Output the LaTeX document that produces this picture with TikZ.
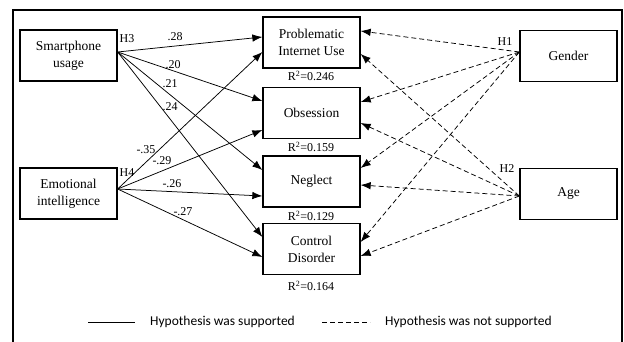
\documentclass[tikz,border=0pt]{standalone}
\usepackage{fontspec}
\setmainfont{Liberation Serif}
\newfontfamily\legendfont{Carlito}
\usetikzlibrary{arrows.meta}
\tikzset{
  varbox/.style={draw,line width=1.3pt,minimum width=97pt,minimum height=51pt,
    align=center,inner sep=1pt,font=\fontsize{13.5}{17}\selectfont},
  coef/.style={inner sep=0pt,font=\fontsize{12}{14}\selectfont},
  supp/.style={line width=0.75pt,-{Latex[length=10pt,width=7.5pt]}},
  nosupp/.style={line width=0.75pt,dash pattern=on 5pt off 3pt,-{Latex[length=10pt,width=7.5pt]}}
}
\begin{document}
\begin{tikzpicture}[x=1pt,y=-1pt]
\useasboundingbox (0,0) rectangle (624,342);
\draw[line width=1.3pt](13,342)|-(622,10)--(622,342);
%
\node[varbox](sp) at (68.5,55.5) {Smartphone\\usage};
\node[varbox](ei) at (68.5,193.5) {Emotional\\intelligence};
\node[varbox](piu) at (311.5,42.5) {Problematic\\Internet Use};
\node[varbox](obs) at (311.5,113) {Obsession};
\node[varbox](neg) at (311.5,181.5) {Neglect};
\node[varbox](ctl) at (311.5,249) {Control\\Disorder};
\node[varbox](gen) at (568.5,56) {Gender};
\node[varbox](age) at (568.5,194) {Age};
%
\node[coef](r1) at (311,76) {R\textsuperscript{2}=0.246};
\node[coef](r2) at (311,147) {R\textsuperscript{2}=0.159};
\node[coef](r3) at (311,216) {R\textsuperscript{2}=0.129};
\node[coef](r4) at (311,286) {R\textsuperscript{2}=0.164};
%
\draw[supp]([yshift=3.5pt]sp.east)--([yshift=5.5pt]piu.west);
\draw[supp]([yshift=3.5pt]sp.east)--([yshift=12pt]obs.west);
\draw[supp]([yshift=3.5pt]sp.east)--([yshift=11.5pt]neg.west);
\draw[supp]([yshift=3.5pt]sp.east)--([yshift=12pt]ctl.west);
\draw[supp]([yshift=4.5pt]ei.east)--([yshift=-9.5pt]piu.west);
\draw[supp]([yshift=4.5pt]ei.east)--([yshift=-17pt]obs.west);
\draw[supp]([yshift=4.5pt]ei.east)--([yshift=-14.5pt]neg.west);
\draw[supp]([yshift=4.5pt]ei.east)--([yshift=-8pt]ctl.west);
%
\draw[nosupp]([yshift=4pt]gen.west)--([yshift=11.5pt]piu.east);
\draw[nosupp]([yshift=4pt]gen.west)--([yshift=11pt]obs.east);
\draw[nosupp]([yshift=4pt]gen.west)--([yshift=13.5pt]neg.east);
\draw[nosupp]([yshift=4pt]gen.west)--([yshift=7pt]ctl.east);
\draw[nosupp]([yshift=-2pt]age.west)--([yshift=-11.5pt]piu.east);
\draw[nosupp]([yshift=-2pt]age.west)--([yshift=-10pt]obs.east);
\draw[nosupp]([yshift=-2pt]age.west)--([yshift=-3.5pt]neg.east);
\draw[nosupp]([yshift=-2pt]age.west)--([yshift=-7pt]ctl.east);
%
\node[coef](h3) at (127,39) {H3};
\node[coef](h4) at (127,173) {H4};
\node[coef](h1) at (505,42) {H1};
\node[coef](h2) at (507,169) {H2};
\node[coef](c28) at (175,37) {.28};
\node[coef](c20) at (173,65) {.20};
\node[coef](c21) at (170,84) {.21};
\node[coef](c24) at (170,107) {.24};
\node[coef](c35) at (146,150) {-.35};
\node[coef](c29) at (162,161) {-.29};
\node[coef](c26) at (172,184) {-.26};
\node[coef](c27) at (183,212) {-.27};
%
\coordinate(la) at (88,322);
\coordinate(lb) at (135,322);
\coordinate(lc) at (322,322);
\coordinate(ld) at (370,322);
\draw[line width=0.75pt](la)--(lb);
\draw[line width=0.75pt,dash pattern=on 5pt off 3pt](lc)--(ld);
\node[anchor=west,inner sep=0pt,font=\legendfont\fontsize{13.5}{15}\selectfont](lt1) at (150,322) {Hypothesis was supported};
\node[anchor=west,inner sep=0pt,font=\legendfont\fontsize{13.5}{15}\selectfont](lt2) at (385,322) {Hypothesis was not supported};
\end{tikzpicture}
\end{document}
